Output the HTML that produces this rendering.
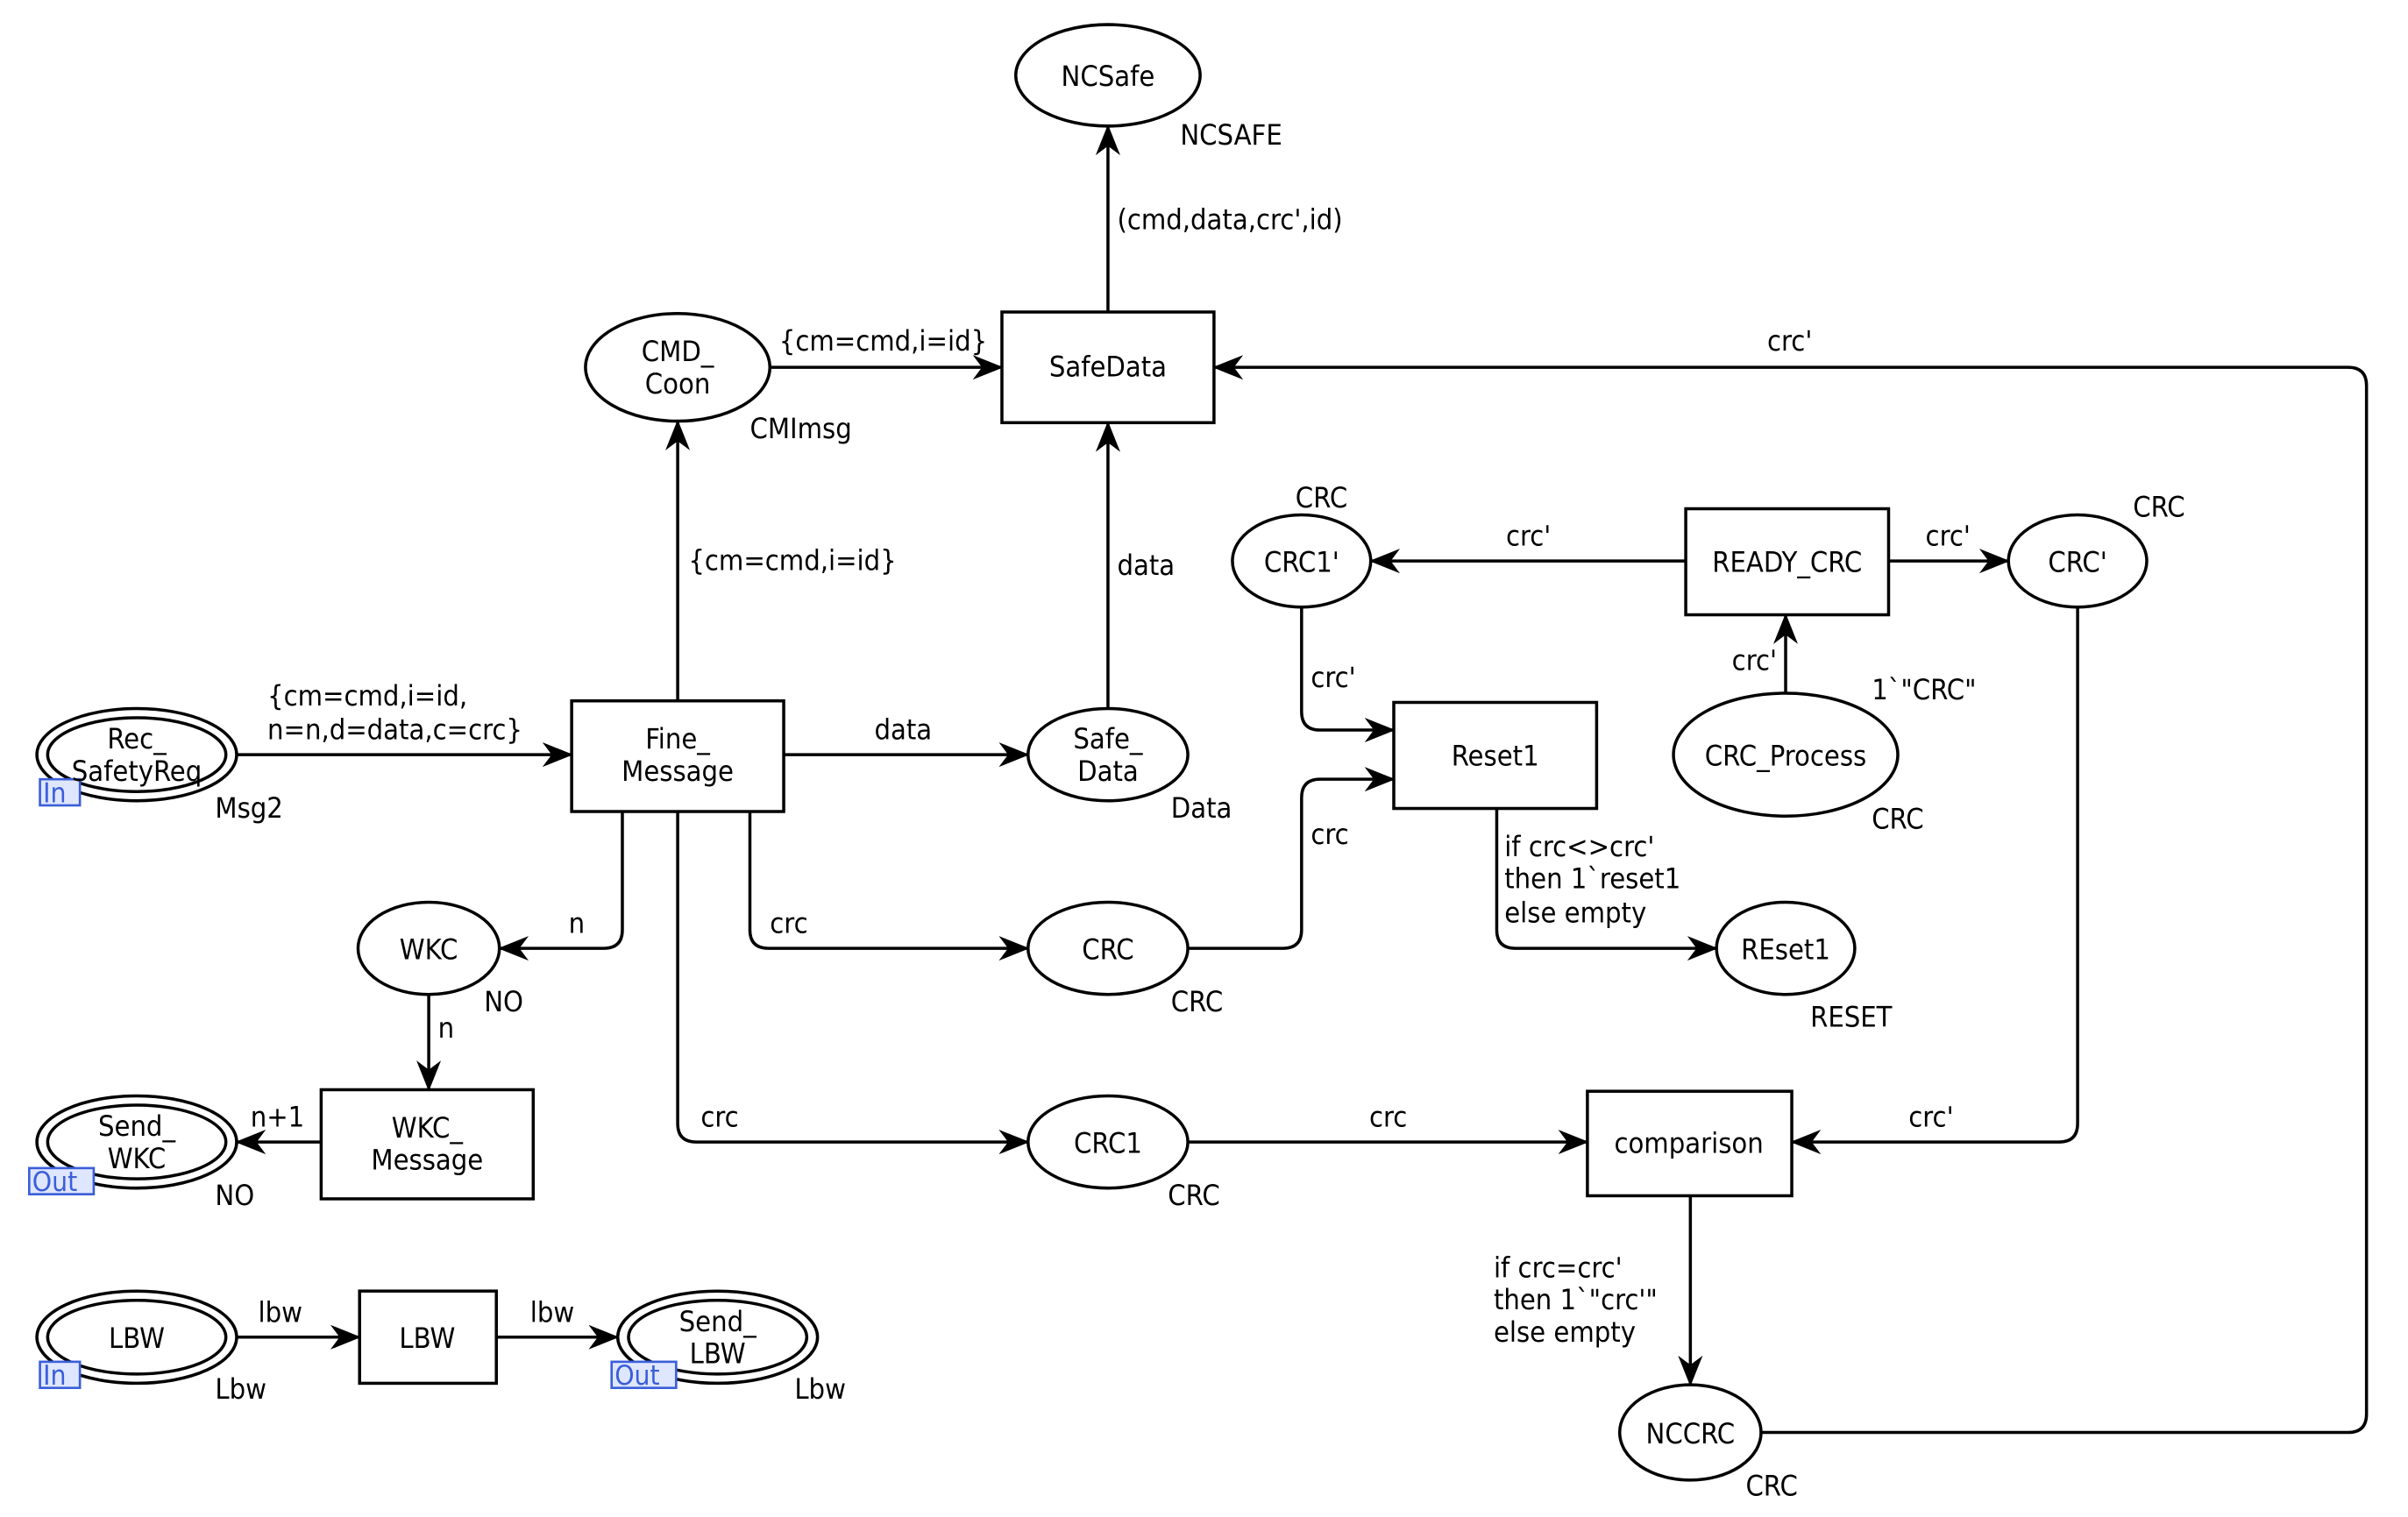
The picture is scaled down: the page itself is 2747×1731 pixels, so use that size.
<!DOCTYPE html>
<html><head><meta charset="utf-8"><style>
html,body{margin:0;padding:0;background:#fff;}
svg{display:block;}
text{font-family:"DejaVu Sans Condensed","Liberation Sans",sans-serif;font-size:18.5px;fill:#000;}
.c{text-anchor:middle;}
.tag{fill:#dfe6ff;stroke:#3a5fd9;stroke-width:1.5;}
.tagt{fill:#3a5fd9;font-size:18px;}
</style></head><body>
<svg width="2747" height="1731" viewBox="0 0 1567 987" preserveAspectRatio="none" xmlns="http://www.w3.org/2000/svg">
<defs>
<marker id="a" viewBox="0 0 20 16" refX="19" refY="8" markerWidth="20" markerHeight="16" markerUnits="userSpaceOnUse" orient="auto">
<path d="M0,0 L20,8 L0,16 L6,8 Z" fill="#000"/>
</marker>
</defs>
<g fill="none" stroke="#000" stroke-width="2">
<ellipse cx="721" cy="49" rx="60" ry="33"/>
<ellipse cx="441" cy="239" rx="60" ry="35"/>
<ellipse cx="721" cy="491" rx="52" ry="30"/>
<ellipse cx="89" cy="491" rx="65" ry="30"/><ellipse cx="89" cy="491" rx="58" ry="24"/>
<ellipse cx="279" cy="617" rx="46" ry="30"/>
<ellipse cx="89" cy="743" rx="65" ry="30"/><ellipse cx="89" cy="743" rx="58" ry="24"/>
<ellipse cx="89" cy="870" rx="65" ry="30"/><ellipse cx="89" cy="870" rx="58" ry="24"/>
<ellipse cx="467" cy="870" rx="65" ry="30"/><ellipse cx="467" cy="870" rx="58" ry="24"/>
<ellipse cx="721" cy="617" rx="52" ry="30"/>
<ellipse cx="721" cy="743" rx="52" ry="30"/>
<ellipse cx="847" cy="365" rx="45" ry="30"/>
<ellipse cx="1352" cy="365" rx="45" ry="30"/>
<ellipse cx="1162" cy="491" rx="73" ry="40"/>
<ellipse cx="1162" cy="617" rx="45" ry="30"/>
<ellipse cx="1100" cy="932" rx="46" ry="31"/>
<rect x="652" y="203" width="138" height="72"/>
<rect x="372" y="456" width="138" height="72"/>
<rect x="209" y="709" width="138" height="71"/>
<rect x="234" y="840" width="89" height="60"/>
<rect x="1097" y="331" width="132" height="69"/>
<rect x="907" y="457" width="132" height="69"/>
<rect x="1033" y="710" width="133" height="68"/>
<g marker-end="url(#a)">
<path d="M721,203 V82"/>
<path d="M501,239 H652"/>
<path d="M441,456 V274"/>
<path d="M721,461 V275"/>
<path d="M154,491 H372"/>
<path d="M510,491 H669"/>
<path d="M405,528 V605 Q405,617 393,617 H325"/>
<path d="M488,528 V605 Q488,617 500,617 H669"/>
<path d="M441,528 V731 Q441,743 453,743 H669"/>
<path d="M279,647 V709"/>
<path d="M209,743 H154"/>
<path d="M154,870 H234"/>
<path d="M323,870 H402"/>
<path d="M1146,932 H1528 Q1540,932 1540,920 V251 Q1540,239 1528,239 H790"/>
<path d="M1097,365 H892"/>
<path d="M1229,365 H1307"/>
<path d="M1162,451 V400"/>
<path d="M847,395 V463 Q847,475 859,475 H907"/>
<path d="M773,617 H835 Q847,617 847,605 V519 Q847,507 859,507 H907"/>
<path d="M974,526 V605 Q974,617 986,617 H1117"/>
<path d="M773,743 H1033"/>
<path d="M1352,395 V731 Q1352,743 1340,743 H1166"/>
<path d="M1100,778 V901"/>
</g>
</g>
<rect class="tag" x="26" y="507" width="26" height="17"/><text class="tagt" x="28" y="522">In</text>
<rect class="tag" x="19" y="760" width="42" height="17"/><text class="tagt" x="21" y="775">Out</text>
<rect class="tag" x="26" y="886" width="26" height="17"/><text class="tagt" x="28" y="901">In</text>
<rect class="tag" x="398" y="886" width="42" height="17"/><text class="tagt" x="400" y="901">Out</text>
<text class="c" x="721" y="56">NCSafe</text>
<text class="c" x="441" y="235">CMD_</text><text class="c" x="441" y="256">Coon</text>
<text class="c" x="721" y="487">Safe_</text><text class="c" x="721" y="508">Data</text>
<text class="c" x="89" y="487">Rec_</text><text class="c" x="89" y="508">SafetyReq</text>
<text class="c" x="279" y="624">WKC</text>
<text class="c" x="89" y="739">Send_</text><text class="c" x="89" y="760">WKC</text>
<text class="c" x="89" y="877">LBW</text>
<text class="c" x="467" y="866">Send_</text><text class="c" x="467" y="887">LBW</text>
<text class="c" x="721" y="624">CRC</text>
<text class="c" x="721" y="750">CRC1</text>
<text class="c" x="847" y="372">CRC1'</text>
<text class="c" x="1352" y="372">CRC'</text>
<text class="c" x="1162" y="498">CRC_Process</text>
<text class="c" x="1162" y="624">REset1</text>
<text class="c" x="1100" y="939">NCCRC</text>
<text class="c" x="721" y="245">SafeData</text>
<text class="c" x="441" y="487">Fine_</text><text class="c" x="441" y="508">Message</text>
<text class="c" x="278" y="740">WKC_</text><text class="c" x="278" y="761">Message</text>
<text class="c" x="278" y="877">LBW</text>
<text class="c" x="1163" y="372">READY_CRC</text>
<text class="c" x="973" y="498">Reset1</text>
<text class="c" x="1099" y="750">comparison</text>
<text x="768" y="94">NCSAFE</text>
<text x="488" y="285">CMImsg</text>
<text x="762" y="532">Data</text>
<text x="140" y="532">Msg2</text>
<text x="315" y="658">NO</text>
<text x="140" y="784">NO</text>
<text x="140" y="910">Lbw</text>
<text x="517" y="910">Lbw</text>
<text x="762" y="658">CRC</text>
<text x="760" y="784">CRC</text>
<text x="843" y="330">CRC</text>
<text x="1388" y="336">CRC</text>
<text x="1218" y="539">CRC</text>
<text x="1218" y="455">1`"CRC"</text>
<text x="1178" y="668">RESET</text>
<text x="1136" y="973">CRC</text>
<text x="727" y="149">(cmd,data,crc',id)</text>
<text x="507" y="228">{cm=cmd,i=id}</text>
<text x="448" y="371">{cm=cmd,i=id}</text>
<text x="727" y="374">data</text>
<text x="174" y="459">{cm=cmd,i=id,</text>
<text x="174" y="481">n=n,d=data,c=crc}</text>
<text x="569" y="481">data</text>
<text x="370" y="607">n</text>
<text x="501" y="607">crc</text>
<text x="456" y="733">crc</text>
<text x="285" y="675">n</text>
<text x="163" y="733">n+1</text>
<text x="168" y="860">lbw</text>
<text x="345" y="860">lbw</text>
<text x="1150" y="228">crc'</text>
<text x="980" y="355">crc'</text>
<text x="1253" y="355">crc'</text>
<text x="1127" y="436">crc'</text>
<text x="853" y="447">crc'</text>
<text x="853" y="549">crc</text>
<text x="979" y="557">if crc&lt;&gt;crc'</text>
<text x="979" y="578">then 1`reset1</text>
<text x="979" y="600">else empty</text>
<text x="891" y="733">crc</text>
<text x="1242" y="733">crc'</text>
<text x="972" y="831">if crc=crc'</text>
<text x="972" y="852">then 1`"crc'"</text>
<text x="972" y="873">else empty</text>
</svg>
</body></html>
